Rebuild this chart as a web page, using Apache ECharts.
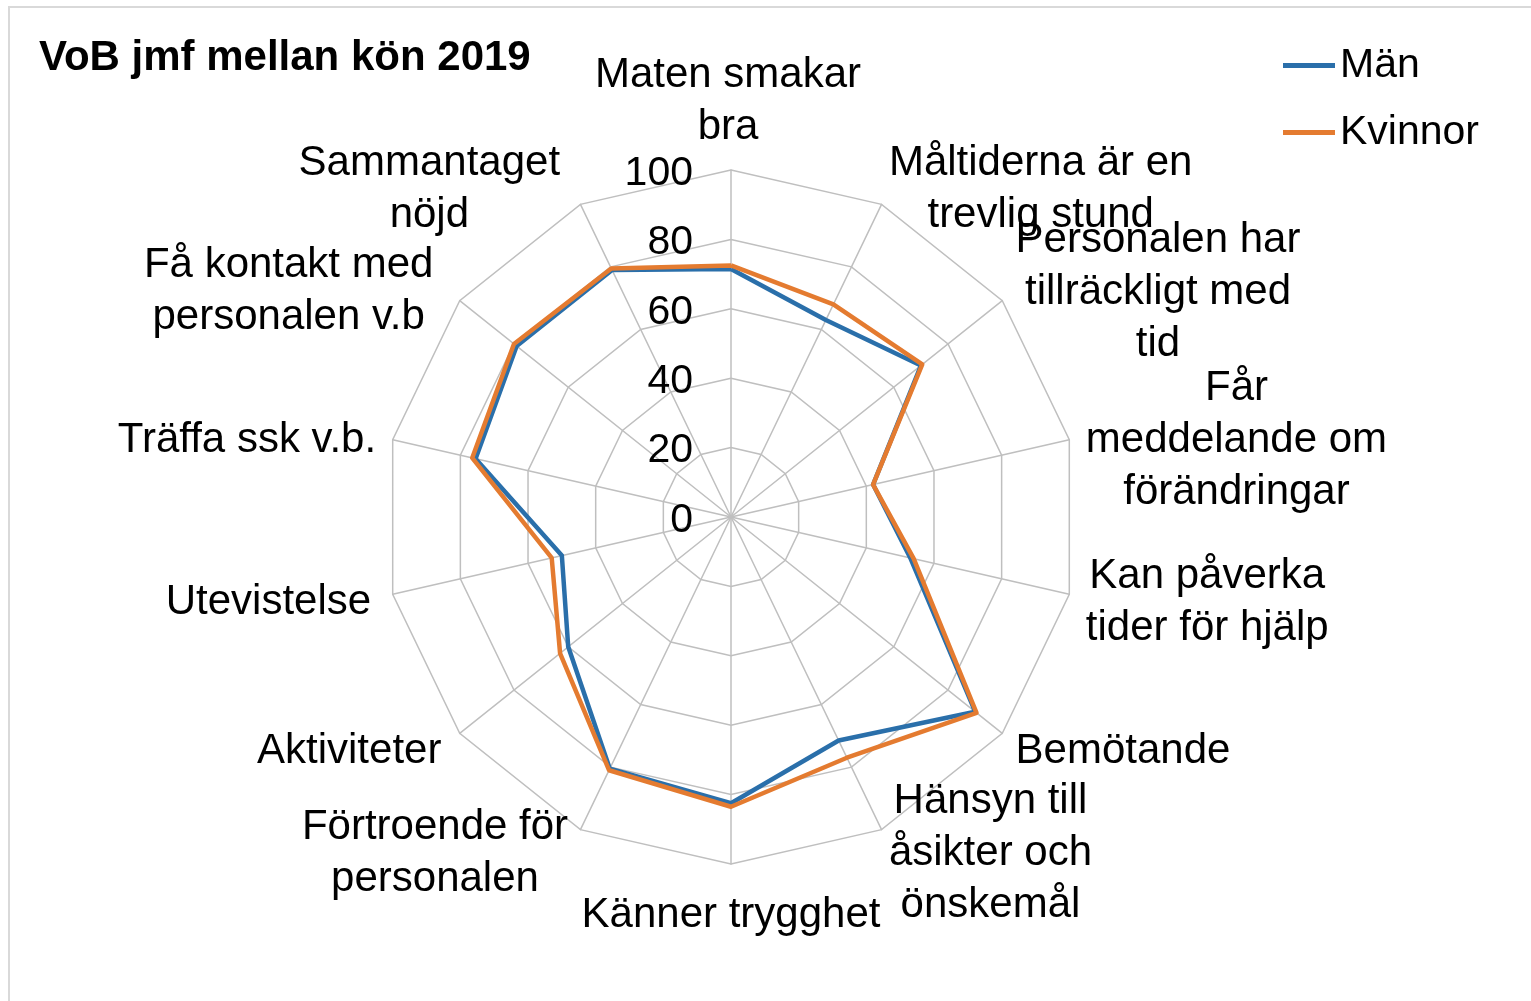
<!DOCTYPE html>
<html>
<head>
<meta charset="utf-8">
<title>VoB jmf mellan kön 2019</title>
<script src="https://cdn.jsdelivr.net/npm/echarts@6/dist/echarts.min.js"></script>
<style>
  html, body { margin: 0; padding: 0; background: #fff; }
  #chart { width: 1531px; height: 1001px; }
</style>
</head>
<body>
<div id="chart"></div>
<script>
// frågor, medurs från toppen
const categories = [
  'Maten smakar\nbra',
  'Måltiderna är en\ntrevlig stund',
  'Personalen har\ntillräckligt med\ntid',
  'Får\nmeddelande om\nförändringar',
  'Kan påverka\ntider för hjälp',
  'Bemötande',
  'Hänsyn till\nåsikter och\nönskemål',
  'Känner trygghet',
  'Förtroende för\npersonalen',
  'Aktiviteter',
  'Utevistelse',
  'Träffa ssk v.b.',
  'Få kontakt med\npersonalen v.b',
  'Sammantaget\nnöjd'
]
const men = [71.5, 63, 70, 42, 53, 90, 71.5, 82.5, 80.5, 60, 50, 75.5, 79, 79]
const women = [72.5, 68, 70.5, 42, 54, 90.5, 77, 83.5, 81, 63, 53, 76.5, 80, 79.5]
const seriesNames = ['Män', 'Kvinnor']
const axisMax = 100
const splitCount = 5

const FONT = 'Liberation Sans, Arial, sans-serif'

// finjustering av etiketternas läge (padding: topp, höger, botten, vänster)
const namePad = {
  0: [8, 6, 0, 0],
  1: [0, 0, 0, 0],
  2: [4, 0, 0, 0],
  5: [14, 0, 0, 0],
  6: [16, 0, 0, 0],
  8: [16, 5, 0, 0],
  9: [14, 5, 0, 0],
  10: [8, 5, 0, 0],
  12: [2, 13, 0, 0],
  13: [0, 13, 0, 0]
}

// echarts ritar radarn moturs, så vänd ordningen (första stannar överst)
const toCcw = arr => [arr[0]].concat(arr.slice(1).reverse())

const indicators = toCcw(categories.map((name, i) => {
  const ind = { name: name, min: 0, max: axisMax }
  if (namePad[i]) ind.nameTextStyle = { padding: namePad[i] }
  if (i === 0) {
    // skalan visas bara på första axeln
    ind.axisLabel = {
      show: true, color: '#000', margin: 38,
      formatter: v => '{v|' + v + '}',
      rich: { v: { fontSize: 41, color: '#000', fontFamily: FONT, padding: [7, 0, 0, 0] } }
    }
  }
  return ind
}))

const chart = echarts.init(document.getElementById('chart'))

chart.setOption({
  animation: false,
  color: ['#2A6FAA', '#E47B30'],
  title: {
    text: 'VoB jmf mellan kön 2019',
    left: 34,
    top: 32,
    textStyle: { fontSize: 42, fontWeight: 'bold', color: '#000', fontFamily: FONT }
  },
  legend: {
    orient: 'vertical',
    left: 1283,
    top: 45,
    padding: 0,
    icon: 'rect',
    itemWidth: 52,
    itemHeight: 5,
    itemGap: 26,
    data: seriesNames,
    textStyle: { fontSize: 41, color: '#000', fontFamily: FONT, lineHeight: 40 }
  },
  graphic: [{
    type: 'rect',
    shape: { x: 9, y: 7, width: 1600, height: 1100 },
    style: { fill: 'none', stroke: '#d9d9d9', lineWidth: 2 },
    silent: true
  }],
  radar: {
    center: [731, 517],
    radius: 347,
    shape: 'polygon',
    splitNumber: splitCount,
    indicator: indicators,
    axisName: {
      color: '#000',
      fontSize: 42,
      fontFamily: FONT,
      padding: [8, 0, 0, 0],
      formatter: name => name.split('\n').map(l => '{c|' + l + '}').join('\n'),
      rich: {
        c: { align: 'center', fontSize: 42, lineHeight: 52, color: '#000', fontFamily: FONT }
      }
    },
    nameGap: 17,
    axisLine: { lineStyle: { color: '#bfbfbf', width: 1.5 } },
    splitLine: { lineStyle: { color: '#bfbfbf', width: 1.5 } },
    splitArea: { show: false },
    axisTick: { show: false },
    axisLabel: { show: false }
  },
  series: [{
    type: 'radar',
    symbol: 'none',
    lineStyle: { width: 4.5 },
    data: [
      { name: seriesNames[0], value: toCcw(men) },
      { name: seriesNames[1], value: toCcw(women) }
    ]
  }]
})
</script>
</body>
</html>
